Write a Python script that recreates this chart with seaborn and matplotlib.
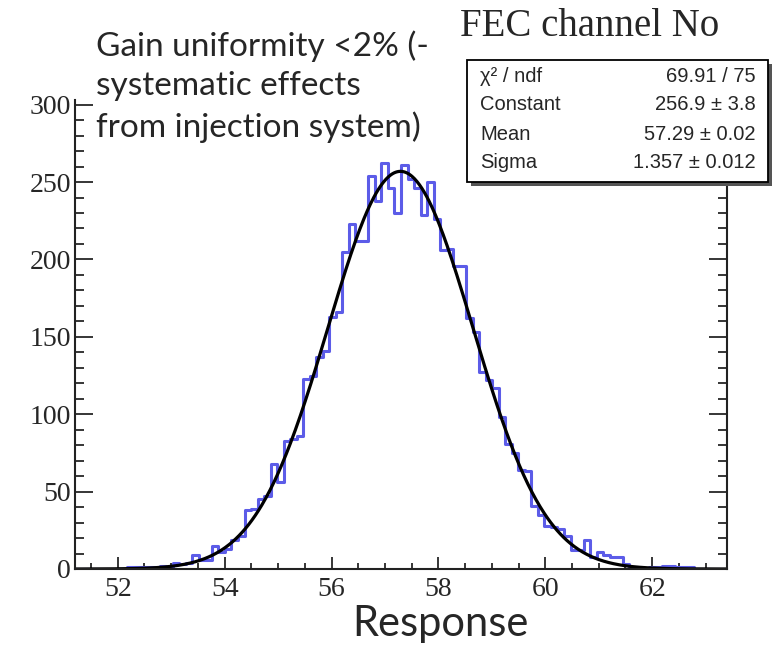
import numpy as np
import pandas as pd
import matplotlib
matplotlib.use("Agg")
import matplotlib.pyplot as plt
import seaborn as sns
from matplotlib.ticker import MultipleLocator
from matplotlib.patches import Rectangle

# histogram binning (100 bins over the frame range)
hist_lo = 51.2
hist_hi = 63.4
n_bins = 100

# entries per bin
counts = [
    0, 0, 0, 0, 0, 0, 0, 0,
    1, 1, 1, 1, 1, 2, 1,
    4, 3, 4, 9, 6, 6, 15, 11, 13,
    19, 21, 38, 39, 45, 47,
    68, 56, 83, 84, 86,
    123, 125, 137, 141, 163,
    166, 205, 223, 212, 212,
    254, 238, 262, 246, 230,
    261, 252, 246, 229, 250,
    226, 206, 207, 196, 196,
    162, 153, 127, 122, 117,
    98, 81, 75, 64, 63,
    41, 35, 28, 27, 26,
    21, 12, 12, 19, 8,
    11, 9, 8, 8, 3,
    1, 1, 0, 1, 1, 2, 2, 1, 1, 1,
    0, 0, 0, 0, 0,
]

# gaussian fit parameters (from the stats box)
fit_const = 256.9
fit_mean = 57.29
fit_sigma = 1.357

stats_names = ["χ² / ndf", "Constant", "Mean", "Sigma"]
stats_values = ["69.91 / 75", "256.9 ± 3.8", "57.29 ± 0.02", "1.357 ± 0.012"]

sns.set_style("ticks")
plt.rcParams["font.family"] = ["Liberation Serif", "DejaVu Serif"]

fig = plt.figure(figsize=(7.73, 6.45), dpi=100)
ax = fig.add_axes([75 / 773, 1 - 569 / 645, 652 / 773, 469 / 645])

edges = np.linspace(hist_lo, hist_hi, n_bins + 1)
df = pd.DataFrame({"center": (edges[:-1] + edges[1:]) / 2, "count": counts})
sns.histplot(data=df, x="center", weights="count", binwidth=(hist_hi - hist_lo) / n_bins,
             binrange=(hist_lo, hist_hi), element="step", fill=False,
             color="#5c5ce8", linewidth=2.2, ax=ax)

xs = np.linspace(hist_lo, hist_hi, 800)
ys = fit_const * np.exp(-0.5 * ((xs - fit_mean) / fit_sigma) ** 2)
sns.lineplot(x=xs, y=ys, color="black", linewidth=2.3, ax=ax)

ax.set_xlim(hist_lo, hist_hi)
ax.set_ylim(0, 303)
ax.set_xlabel("")
ax.set_ylabel("")

ax.xaxis.set_major_locator(MultipleLocator(2))
ax.xaxis.set_minor_locator(MultipleLocator(0.5))
ax.yaxis.set_major_locator(MultipleLocator(50))
ax.yaxis.set_minor_locator(MultipleLocator(10))
ax.tick_params(which="both", direction="in", right=True, top=False, width=1.3)
ax.xaxis.set_tick_params(which="major", length=9, pad=6, labelsize=20)
ax.xaxis.set_tick_params(which="minor", length=4.5)
ax.yaxis.set_tick_params(which="major", length=13, pad=3, labelsize=20)
ax.yaxis.set_tick_params(which="minor", length=6.5)
for side in ["left", "right", "bottom"]:
    ax.spines[side].set_linewidth(1.5)
    ax.spines[side].set_color("#222222")
ax.spines["top"].set_visible(False)

# axis title and annotations
fig.text(440 / 773, 1 - 624 / 645, "Response", family="Lato", fontsize=30,
         ha="center", va="center")
fig.text(96 / 773, 1 - 30 / 645,
         "Gain uniformity <2% (-\nsystematic effects\nfrom injection system)",
         family="Lato", fontsize=24, ha="left", va="top", linespacing=1.4)
fig.text(460 / 773, 1 - 26 / 645, "FEC channel No", family="Liberation Serif",
         fontsize=28, ha="left", va="center")

# stats box with shadow
bx0, bx1 = 467 / 773, 768 / 773
by0, by1 = 1 - 182 / 645, 1 - 60 / 645
sh = 4
fig.patches.append(Rectangle((bx0 + sh / 773, by0 - sh / 645), bx1 - bx0, by1 - by0,
                             transform=fig.transFigure, facecolor="#555555",
                             edgecolor="none", zorder=5))
fig.patches.append(Rectangle((bx0, by0), bx1 - bx0, by1 - by0,
                             transform=fig.transFigure, facecolor="white",
                             edgecolor="black", linewidth=1.3, zorder=6))
row_y = [76, 105, 134, 163]
for name, val, ry in zip(stats_names, stats_values, row_y):
    fig.text(480 / 773, 1 - ry / 645, name, family="Liberation Sans", fontsize=14.5,
             ha="left", va="center", zorder=7)
    fig.text(756 / 773, 1 - ry / 645, val, family="Liberation Sans", fontsize=14.5,
             ha="right", va="center", zorder=7)

fig.savefig("out.png", dpi=100)
